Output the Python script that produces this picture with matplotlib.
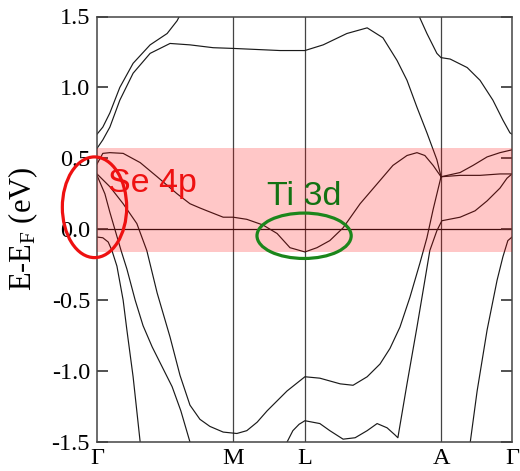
import numpy as np
import matplotlib.pyplot as plt
from matplotlib.patches import Ellipse

plt.rcParams['font.family'] = 'Liberation Serif'
plt.rcParams['mathtext.fontset'] = 'custom'
plt.rcParams['mathtext.rm'] = 'Liberation Serif'
plt.rcParams['mathtext.it'] = 'Liberation Serif:italic'

# high-symmetry points along the path (fraction of total path length)
kpt_labels = ['Γ', 'M', 'L', 'A', 'Γ']
kpt_pos = [0.0, 0.327, 0.501, 0.829, 1.0]

# bands: path position, energy E-E_F (eV)
band_a_k = [0, .014, .031, .055, .087, .128, .169, .193, .207]
band_a_e = [.67, .72, .82, 1.00, 1.17, 1.30, 1.38, 1.47, 1.55]

band_b_k = [0, .014, .031, .055, .087, .128, .176, .224, .280, .328, .441, .501,
            .545, .602, .651, .689, .723, .747, .771, .795, .819, .829]
band_b_e = [.57, .63, .72, .91, 1.10, 1.24, 1.31, 1.30, 1.28, 1.275, 1.26, 1.26,
            1.30, 1.38, 1.42, 1.35, 1.19, 1.05, .86, .68, .49, .37]

band_c_k = [.773, .778, .795, .819, .829, .851, .892, .923, .954, .978, .995, 1.0]
band_c_e = [1.55, 1.49, 1.38, 1.24, 1.21, 1.20, 1.14, 1.05, .91, .77, .68, .67]

band_d_k = [0, .014, .031, .063, .104, .145, .193, .224, .248, .265, .304, .328, .361, .400,
            .434, .465, .501, .530, .561, .593, .634, .675, .713, .747, .771, .790, .810, .829]
band_d_e = [.46, .535, .54, .535, .47, .37, .25, .18, .15, .13, .085, .085, .07, .03,
            -.03, -.13, -.16, -.13, -.08, .01, .18, .32, .45, .52, .54, .52, .45, .37]

band_e_k = [0, .019, .031, .043, .058, .072, .092, .111, .133, .157, .181, .202, .224]
band_e_e = [.38, .25, .12, .0, -.15, -.28, -.50, -.68, -.83, -.97, -1.11, -1.28, -1.50]

band_f_k = [0, .031, .063, .096, .120, .145, .176, .200, .224, .248, .272, .304, .337, .361, .386,
            .410, .458, .501, .537, .586, .617, .651, .682, .706, .730, .754, .778, .795, .810, .829]
band_f_e = [.39, .30, .18, .04, -.15, -.45, -.76, -1.03, -1.24, -1.34, -1.39, -1.43, -1.44, -1.42, -1.36,
            -1.28, -1.14, -1.04, -1.05, -1.09, -1.10, -1.04, -.95, -.84, -.69, -.48, -.24, -.06, .14, .37]

band_g_k = [0, .014, .027, .036, .048, .063, .072, .087, .104]
band_g_e = [-.055, -.06, -.09, -.15, -.26, -.50, -.71, -1.04, -1.50]

band_g2_k = [.899, .916, .940, .964, .978, .990, 1.0]
band_g2_e = [-1.51, -1.14, -.71, -.36, -.195, -.08, -.055]

band_h_k = [.458, .472, .487, .501, .537, .561, .593, .622, .651, .675, .699, .718, .725,
            .747, .771, .790, .802, .819, .831, .875, .911, .940, .971, .988, 1.0]
band_h_e = [-1.50, -1.42, -1.375, -1.35, -1.37, -1.42, -1.48, -1.47, -1.42, -1.37, -1.40, -1.45, -1.47,
            -1.09, -.69, -.36, -.15, -.01, .06, .085, .13, .20, .29, .36, .39]

band_i_k = [.829, .875, .923, .971, 1.0]
band_i_e = [.37, .38, .38, .39, .39]

band_j_k = [.829, .875, .906, .940, .971, 1.0]
band_j_e = [.37, .40, .45, .51, .54, .56]

bands = [(band_a_k, band_a_e), (band_b_k, band_b_e), (band_c_k, band_c_e),
         (band_d_k, band_d_e), (band_e_k, band_e_e), (band_f_k, band_f_e),
         (band_g_k, band_g_e), (band_g2_k, band_g2_e), (band_h_k, band_h_e),
         (band_i_k, band_i_e), (band_j_k, band_j_e)]

# highlighted energy window
window = (-0.16, 0.57)

fig = plt.figure(figsize=(5.2, 4.71), dpi=100)
ax = fig.add_axes([97/520, 29/471, 415/520, 425.5/471])

for kk, ee in bands:
    ax.plot(kk, ee, color='#1a1a1a', lw=0.85, zorder=2)

for kp in kpt_pos[1:-1]:
    ax.axvline(kp, color='#444444', lw=0.9, zorder=1)
ax.axhline(0, color='#111111', lw=0.9, zorder=1)

ax.axhspan(window[0], window[1], color='red', alpha=0.22, lw=0, zorder=3)

ax.add_patch(Ellipse((-0.006, 0.155), 0.155, 0.71, fill=False, ec='#ee1111',
                     lw=2.3, zorder=5, clip_on=False))
ax.add_patch(Ellipse((0.499, -0.046), 0.227, 0.32, fill=False, ec='#1b861b',
                     lw=2.3, zorder=5))
ax.text(0.027, 0.26, 'Se 4p', color='#ee1111', fontsize=24.5,
        family='Liberation Sans', va='baseline', ha='left', zorder=6)
ax.text(0.410, 0.17, 'Ti 3d', color='#127212', fontsize=24.5,
        family='Liberation Sans', va='baseline', ha='left', zorder=6)

ax.set_xlim(0, 1)
ax.set_ylim(-1.5, 1.5)
ax.set_xticks(kpt_pos)
ax.set_xticklabels(kpt_labels)
ax.set_yticks([-1.5, -1.0, -0.5, 0.0, 0.5, 1.0, 1.5])
ax.set_yticklabels(['-1.5', '-1.0', '-0.5', '0.0', '0.5', '1.0', '1.5'])
ax.tick_params(axis='x', length=0, pad=4, labelsize=17.5)
ax.tick_params(axis='y', direction='in', length=8, width=1.2, pad=5,
               labelsize=17.5, right=True, color='#333333')
for sp in ax.spines.values():
    sp.set_color('#444444')
    sp.set_linewidth(1.1)

ax.set_ylabel('E-E$_\\mathrm{F}$ (eV)', fontsize=22)
ax.yaxis.set_label_coords(-0.137, 0.5)

fig.savefig('out.png', dpi=100)
